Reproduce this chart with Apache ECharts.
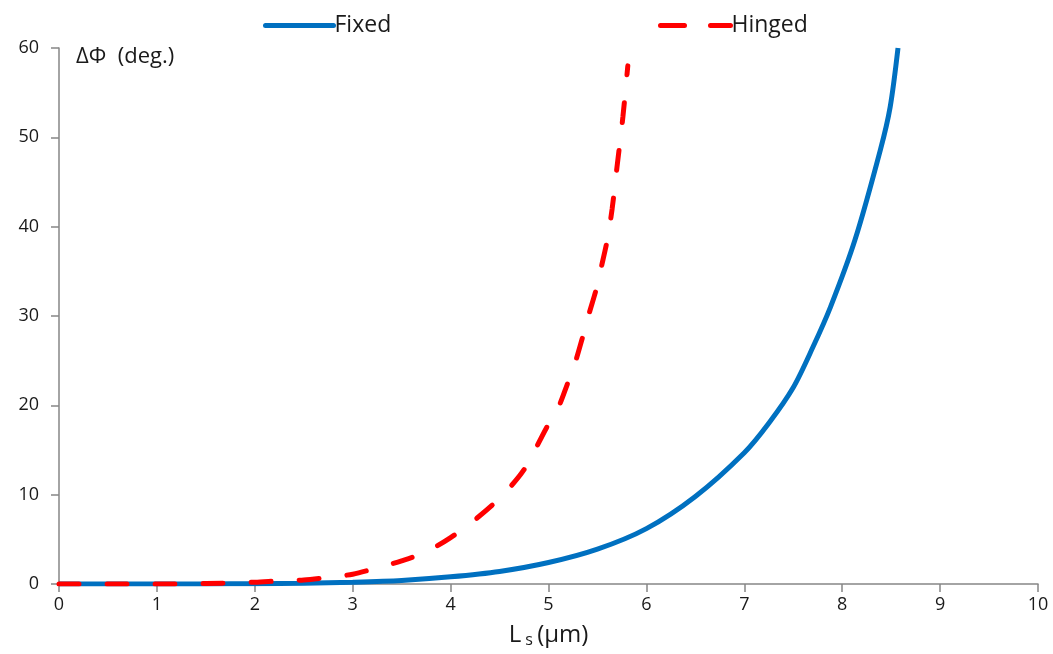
<!DOCTYPE html>
<html><head><meta charset="utf-8">
<script src="https://cdn.jsdelivr.net/npm/echarts@6/dist/echarts.min.js"></script>
<style>html,body{margin:0;padding:0;background:#fff}#c{width:1053px;height:654px}</style>
</head><body><div id="c"></div>
<script>
const fixedX = [0,0.5,1,1.5,2,2.5,3,3.5,4,4.5,5,5.5,6,6.5,7,7.25,7.5,7.7,7.88,8.13,8.39,8.49,8.57];
const fixedY = [0,0,0,0.01,0.03,0.08,0.2,0.4,0.8,1.4,2.4,3.9,6.2,9.8,14.7,18,22,26.5,31,38.5,48.6,53.4,60];
const hingedX = [0,0.5,1,1.5,2,2.25,2.5,2.75,3,3.25,3.5,3.75,4,4.25,4.5,4.75,4.98,5.09,5.19,5.27,5.35,5.41,5.49,5.54,5.6,5.65,5.7,5.76,5.81];
const hingedY = [0,0,0,0.05,0.2,0.35,0.45,0.75,1.1,1.8,2.6,3.6,5.2,7.2,9.6,12.8,17.5,19.5,22.3,24.7,27.7,30.1,33.1,35.5,38.5,42,46.7,52.3,58];
const xTicks = {min:0,max:10,interval:1};
const yTicks = {min:0,max:60,interval:10};
const zip = (a,b)=>a.map((v,i)=>[v,b[i]]);
const font = 'Open Sans';
const txt = '#1a1a1a';
const chart = echarts.init(document.getElementById('c'));
chart.setOption({
  animation:false,
  grid:{left:59,right:15,top:48,bottom:70},
  legend:[
    {data:['Fixed'],left:258,top:9,itemWidth:68,itemHeight:14,itemGap:0,
      itemStyle:{opacity:0},lineStyle:{width:5,cap:'round'},
      textStyle:{fontFamily:font,fontSize:23,color:txt,padding:[0,0,0,-4]}},
    {data:['Hinged'],left:653,top:9,itemWidth:70,itemHeight:14,itemGap:0,
      itemStyle:{opacity:0},lineStyle:{width:5,type:[24,26],cap:'round'},
      textStyle:{fontFamily:font,fontSize:23,color:txt,padding:[0,0,0,-4]}}
  ],
  xAxis:{type:'value',min:xTicks.min,max:xTicks.max,interval:xTicks.interval,
    axisLine:{onZero:false,lineStyle:{color:'#868686',width:1.5}},
    axisTick:{show:true,length:8,lineStyle:{color:'#868686',width:1.5}},
    splitLine:{show:false},
    axisLabel:{margin:12,fontFamily:font,fontSize:18,color:txt},
    name:'{a|L}{b| s }{a|(μm)}',nameLocation:'middle',nameGap:38,
    nameTextStyle:{rich:{a:{fontFamily:font,fontSize:24,color:txt},b:{fontFamily:font,fontSize:16,color:txt,padding:[10,0,0,0]}}}
  },
  yAxis:{type:'value',min:yTicks.min,max:yTicks.max,interval:yTicks.interval,
    axisLine:{show:true,lineStyle:{color:'#868686',width:1.5}},
    axisTick:{show:true,length:8,lineStyle:{color:'#868686',width:1.5}},
    splitLine:{show:false},
    axisLabel:{margin:20,fontFamily:font,fontSize:18,color:txt}
  },
  graphic:[{type:'text',left:76,top:46,style:{text:'ΔΦ  (deg.)',fontFamily:font,fontSize:22,fill:txt}}],
  series:[
    {name:'Fixed',type:'line',data:zip(fixedX,fixedY),smooth:0.3,symbol:'none',
      lineStyle:{color:'#0070C0',width:5},itemStyle:{color:'#0070C0'}},
    {name:'Hinged',type:'line',data:zip(hingedX,hingedY),smooth:0.3,symbol:'none',
      lineStyle:{color:'#FF0000',width:5,type:[20,28],cap:'round'},itemStyle:{color:'#FF0000'}}
  ]
});
</script></body></html>
